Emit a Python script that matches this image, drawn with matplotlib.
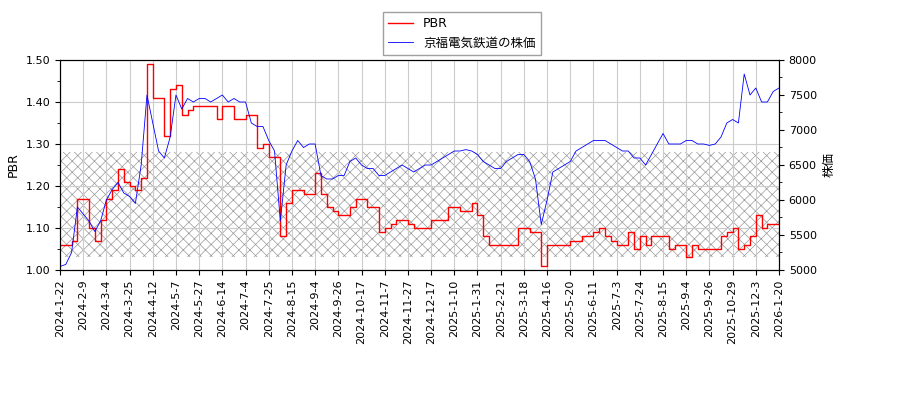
import matplotlib
matplotlib.use("Agg")
import matplotlib.pyplot as plt
import numpy as np

plt.rcParams['font.family'] = ['DejaVu Sans', 'Noto Sans CJK JP']
plt.rcParams['hatch.linewidth'] = 0.5

tick_labels = ["2024-1-22","2024-2-9","2024-3-4","2024-3-25","2024-4-12","2024-5-7","2024-5-27","2024-6-14",
               "2024-7-4","2024-7-25","2024-8-15","2024-9-4","2024-9-26","2024-10-17","2024-11-7","2024-11-27",
               "2024-12-17","2025-1-10","2025-1-31","2025-2-21","2025-3-18","2025-4-16","2025-5-20","2025-6-11",
               "2025-7-3","2025-7-24","2025-8-15","2025-9-4","2025-9-26","2025-10-29","2025-12-3","2026-1-20"]

price = [5050,5080,5250,5900, 5800,5700,5550,5700, 6000,6150,6250,6100, 6050,5950,6500,7500,
         7100,6700,6600,6900, 7500,7300,7450,7400, 7450,7450,7400,7450, 7500,7400,7450,7400,
         7400,7100,7050,7050, 6850,6700,5700,6500, 6700,6850,6750,6800, 6800,6350,6300,6300,
         6350,6350,6550,6600, 6500,6450,6450,6350, 6350,6400,6450,6500, 6450,6400,6450,6500,
         6500,6550,6600,6650, 6700,6700,6720,6700, 6650,6550,6500,6450, 6450,6550,6600,6650,
         6650,6550,6300,5650, 6000,6400,6450,6500, 6550,6700,6750,6800, 6850,6850,6850,6800,
         6750,6700,6700,6600, 6600,6500,6650,6800, 6950,6800,6800,6800, 6850,6850,6800,6800,
         6780,6800,6900,7100, 7150,7100,7800,7500, 7600,7400,7400,7550, 7600]

pbr = [1.06,1.06,1.07,1.17, 1.17,1.10,1.07,1.12, 1.17,1.19,1.24,1.21, 1.20,1.19,1.22,1.49,
       1.41,1.41,1.32,1.43, 1.44,1.37,1.38,1.39, 1.39,1.39,1.39,1.36, 1.39,1.39,1.36,1.36,
       1.37,1.37,1.29,1.30, 1.27,1.27,1.08,1.16, 1.19,1.19,1.18,1.18, 1.23,1.18,1.15,1.14,
       1.13,1.13,1.15,1.17, 1.17,1.15,1.15,1.09, 1.10,1.11,1.12,1.12, 1.11,1.10,1.10,1.10,
       1.12,1.12,1.12,1.15, 1.15,1.14,1.14,1.16, 1.13,1.08,1.06,1.06, 1.06,1.06,1.06,1.10,
       1.10,1.09,1.09,1.01, 1.06,1.06,1.06,1.06, 1.07,1.07,1.08,1.08, 1.09,1.10,1.08,1.07,
       1.06,1.06,1.09,1.05, 1.08,1.06,1.08,1.08, 1.08,1.05,1.06,1.06, 1.03,1.06,1.05,1.05,
       1.05,1.05,1.08,1.09, 1.10,1.05,1.06,1.08, 1.13,1.10,1.11,1.11, 1.11]

band = [1.03, 1.28]

x = np.arange(len(price))
fig = plt.figure(figsize=(9, 4), dpi=100)
ax = fig.add_axes([60/900, 130/400, 719/900, 210/400])
ax2 = ax.twinx()

ax.fill_between([0, x[-1]], band[0], band[1], facecolor='none', edgecolor='#999999', hatch='xxx', linewidth=0)
l1, = ax.plot(x, pbr, color='red', lw=1.0, drawstyle='steps-post', label='PBR')
l2, = ax2.plot(x, price, color='blue', lw=0.6, label='京福電気鉄道の株価')

ax.set_xlim(0, x[-1])
ax.set_ylim(1.0, 1.5)
ax2.set_ylim(5000, 8000)
ax.set_yticks(np.arange(1.0, 1.51, 0.1))
ax.set_yticks(np.arange(1.0, 1.51, 0.05), minor=True)
ax2.set_yticks(np.arange(5000, 8001, 500))
ax2.set_yticks(np.arange(5000, 8001, 250), minor=True)
ax.set_xticks(np.arange(0, len(price), 4))
ax.set_xticklabels(tick_labels, rotation=90, fontsize=8)
ax.tick_params(axis='y', labelsize=8)
ax2.tick_params(axis='y', labelsize=8)
ax.yaxis.set_major_formatter(matplotlib.ticker.FormatStrFormatter('%.2f'))
ax.grid(True, color='#cccccc', lw=0.8)
ax.set_ylabel('PBR', fontsize=9)
ax2.set_ylabel('株価', fontsize=9)
fig.legend(handles=[l1, l2], loc='upper center', bbox_to_anchor=(462/900, 0.985), fontsize=9,
           fancybox=False, edgecolor='#888888')
fig.savefig('out.png')
